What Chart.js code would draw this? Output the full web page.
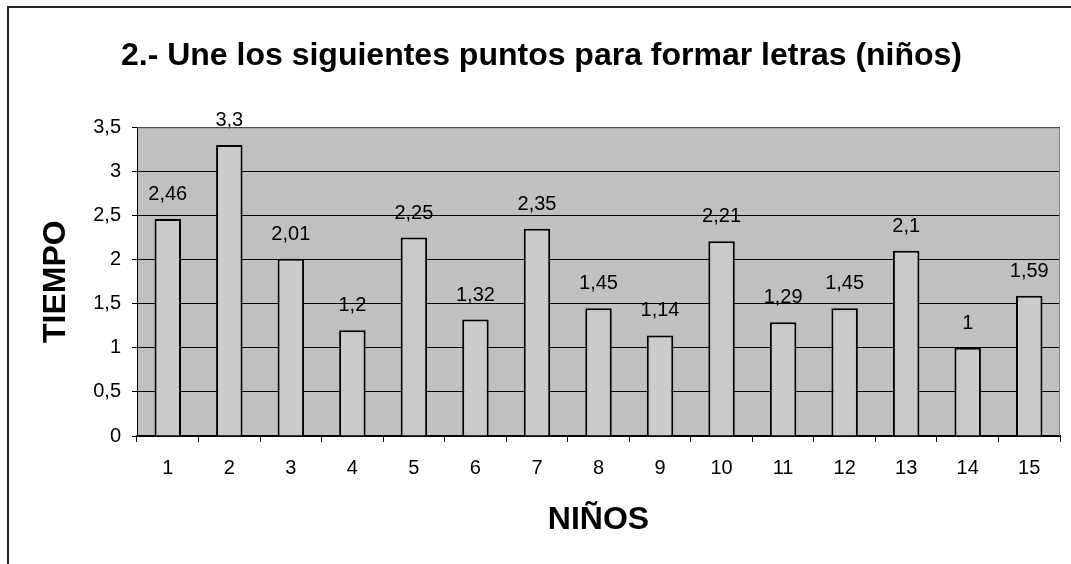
<!DOCTYPE html>
<html>
<head>
<meta charset="utf-8">
<script src="https://cdn.jsdelivr.net/npm/chart.js@4/dist/chart.umd.min.js"></script>
<style>
    html, body { margin: 0; padding: 0; background: #fff; }
    #wrap { position: relative; width: 1071px; height: 564px; overflow: hidden; }
    #frame { position: absolute; left: 7px; top: 6px; width: 1100px; height: 600px;
             border-left: 2px solid #222; border-top: 2px solid #222; }
    #chart { position: absolute; left: 0; top: 0; }
</style>
</head>
<body>
<div id="wrap">
    <div id="frame"></div>
    <canvas id="chart" width="1071" height="564"></canvas>
</div>
<script>
"use strict";

// Data
const ninos = ['1', '2', '3', '4', '5', '6', '7', '8', '9', '10', '11', '12', '13', '14', '15'];
const tiempo = [2.46, 3.3, 2.01, 1.2, 2.25, 1.32, 2.35, 1.45, 1.14, 2.21, 1.29, 1.45, 2.1, 1, 1.59];
const yTicks = [0, 0.5, 1, 1.5, 2, 2.5, 3, 3.5];

const FONT = '"Liberation Sans", Arial, sans-serif';
const comma = v => String(v).replace('.', ',');

Chart.defaults.font.family = FONT;
Chart.defaults.color = '#000';

// Gray plot background, drawn before grid and bars
const plotBg = {
    id: 'plotBg',
    beforeDraw(chart) {
        const a = chart.chartArea, ctx = chart.ctx;
        ctx.save();
        ctx.fillStyle = '#c0c0c0';
        ctx.fillRect(a.left, a.top, a.right - a.left, a.bottom - a.top);
        ctx.restore();
    },
    afterDraw(chart) {
        const a = chart.chartArea, ctx = chart.ctx;
        ctx.save();
        ctx.strokeStyle = '#808080';
        ctx.lineWidth = 1;
        ctx.beginPath();
        ctx.moveTo(a.left, a.top + 0.5);
        ctx.lineTo(a.right - 0.5, a.top + 0.5);
        ctx.lineTo(a.right - 0.5, a.bottom);
        ctx.stroke();
        ctx.restore();
    }
};

// Value above each bar
const barLabels = {
    id: 'barLabels',
    afterDatasetsDraw(chart) {
        const ctx = chart.ctx;
        const meta = chart.getDatasetMeta(0);
        ctx.save();
        ctx.font = '20px ' + FONT;
        ctx.fillStyle = '#000';
        ctx.textAlign = 'center';
        ctx.textBaseline = 'alphabetic';
        meta.data.forEach((bar, i) => {
            ctx.fillText(comma(chart.data.datasets[0].data[i]), bar.x, bar.y - 19);
        });
        ctx.restore();
    }
};

new Chart(document.getElementById('chart'), {
    type: 'bar',
    data: {
        labels: ninos,
        datasets: [{
            data: tiempo,
            backgroundColor: '#cbcbcb',
            borderColor: '#000',
            borderWidth: 2,
            barPercentage: 0.43,
            categoryPercentage: 1
        }]
    },
    options: {
        responsive: false,
        animation: false,
        layout: { padding: { left: 23, right: 11, top: 0, bottom: 0 } },
        plugins: {
            legend: { display: false },
            tooltip: { enabled: false },
            title: {
                display: true,
                text: '2.- Une los siguientes puntos para formar letras (niños)',
                font: { size: 32, weight: 'bold' },
                color: '#000',
                padding: { top: 37, bottom: 52 }
            }
        },
        scales: {
            x: {
                offset: true,
                grid: { offset: true, drawOnChartArea: false, tickLength: 6, color: '#000' },
                border: { color: '#000', width: 2 },
                ticks: { font: { size: 20 }, padding: 14, maxRotation: 0 },
                title: {
                    display: true,
                    text: 'NIÑOS',
                    font: { size: 32, weight: 'bold' },
                    padding: { top: 0, bottom: 25 }
                },
                afterFit(scale) { scale.height = 128; }
            },
            y: {
                min: 0,
                max: 3.5,
                afterBuildTicks(scale) { scale.ticks = yTicks.map(v => ({ value: v })); },
                grid: { color: '#000', tickLength: 5 },
                border: { color: '#000', width: 1 },
                ticks: { font: { size: 20 }, padding: 11, callback: v => comma(v) },
                title: {
                    display: true,
                    text: 'TIEMPO',
                    font: { size: 32, weight: 'bold' },
                    padding: { top: 14, bottom: 0 }
                },
                afterFit(scale) { scale.width = 114; }
            }
        }
    },
    plugins: [plotBg, barLabels]
});
</script>
</body>
</html>
